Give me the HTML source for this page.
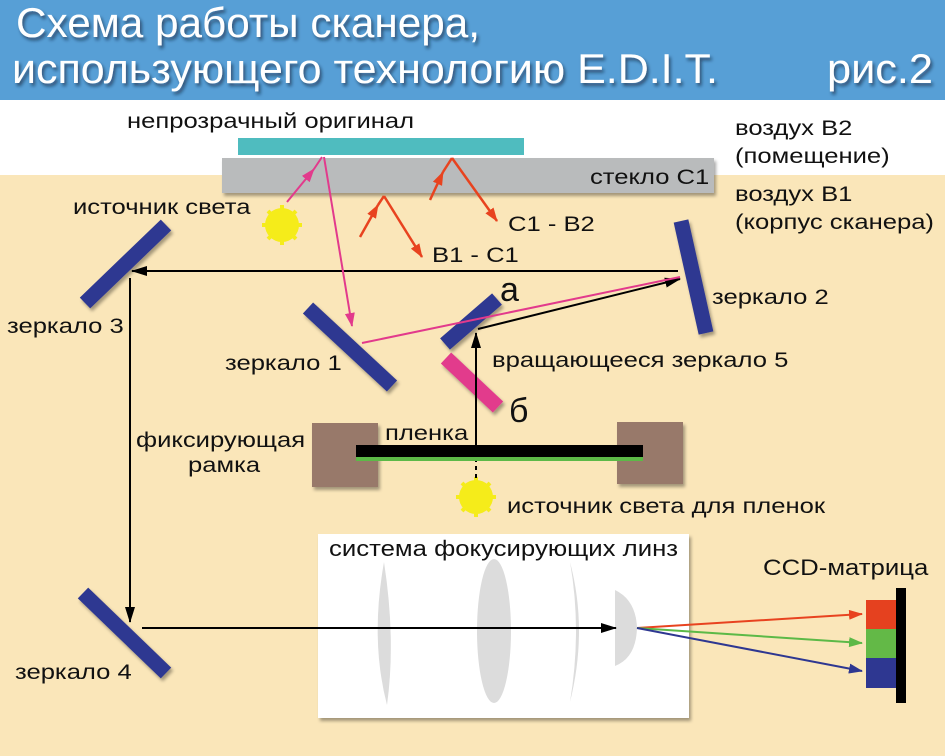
<!DOCTYPE html>
<html><head><meta charset="utf-8"><style>
html,body{margin:0;padding:0;width:945px;height:756px;overflow:hidden;background:#fae6b9}
svg{display:block}
text{font-family:"Liberation Sans",sans-serif;fill:#111}
</style></head><body>
<svg width="945" height="756" viewBox="0 0 945 756" xmlns="http://www.w3.org/2000/svg">
<defs>
<filter id="sh" x="-20%" y="-20%" width="150%" height="150%"><feDropShadow dx="2" dy="3" stdDeviation="1.5" flood-color="#000" flood-opacity="0.35"/></filter>
<filter id="ts" x="-5%" y="-20%" width="110%" height="150%"><feDropShadow dx="2" dy="3" stdDeviation="1.5" flood-color="#123" flood-opacity="0.6"/></filter>
<marker id="ak2" markerWidth="16" markerHeight="10" refX="15" refY="5" orient="auto" markerUnits="userSpaceOnUse"><path d="M0,0 L16,5 L0,10z" fill="#000"/></marker>
<marker id="ap" markerWidth="14" markerHeight="10" refX="13" refY="5" orient="auto" markerUnits="userSpaceOnUse"><path d="M0,0 L14,5 L0,10z" fill="#e23a8c"/></marker>
<marker id="ar" markerWidth="14" markerHeight="10" refX="13" refY="5" orient="auto" markerUnits="userSpaceOnUse"><path d="M0,0 L14,5 L0,10z" fill="#e8431f"/></marker>
<marker id="ag" markerWidth="14" markerHeight="10" refX="13" refY="5" orient="auto" markerUnits="userSpaceOnUse"><path d="M0,0 L14,5 L0,10z" fill="#5cb947"/></marker>
<marker id="ab" markerWidth="14" markerHeight="10" refX="13" refY="5" orient="auto" markerUnits="userSpaceOnUse"><path d="M0,0 L14,5 L0,10z" fill="#2e3791"/></marker>
<g id="sun"><g stroke="#f5ec1a" stroke-width="4"><line x1="0" y1="-20" x2="0" y2="20"/><line x1="-20" y1="0" x2="20" y2="0"/><line x1="-14" y1="-14" x2="14" y2="14"/><line x1="-14" y1="14" x2="14" y2="-14"/></g><circle r="17" fill="#f5ec1a"/></g>
</defs>
<rect x="0" y="0" width="945" height="100" fill="#579fd6"/>
<rect x="0" y="100" width="945" height="75" fill="#fff"/>
<g filter="url(#ts)">
<text x="16" y="37" font-size="42" style="fill:#fff" textLength="464" lengthAdjust="spacingAndGlyphs">Схема работы сканера,</text>
<text x="12" y="83" font-size="42" style="fill:#fff" textLength="706" lengthAdjust="spacingAndGlyphs">использующего технологию E.D.I.T.</text>
<text x="827" y="83" font-size="42" style="fill:#fff" textLength="106" lengthAdjust="spacingAndGlyphs">рис.2</text>
</g>
<rect x="238" y="138" width="286" height="17" fill="#4fbcbf"/>
<rect x="222" y="158" width="492" height="35" fill="#b9bbbc" filter="url(#sh)"/>
<g font-size="21">
<text transform="translate(127 128) scale(1.22 1)">непрозрачный оригинал</text>
<text transform="translate(590 184) scale(1.22 1)">стекло C1</text>
<text transform="translate(735 135) scale(1.22 1)">воздух B2</text>
<text transform="translate(735 163) scale(1.22 1)">(помещение)</text>
<text transform="translate(735 201) scale(1.22 1)">воздух B1</text>
<text transform="translate(735 229) scale(1.22 1)">(корпус сканера)</text>
<text transform="translate(73 214) scale(1.22 1)">источник света</text>
<text transform="translate(508 231) scale(1.22 1)">C1 - B2</text>
<text transform="translate(432 262) scale(1.22 1)">B1 - C1</text>
</g>
<use href="#sun" x="282" y="225"/>
<use href="#sun" x="476" y="497"/>
<g stroke="#e8431f" stroke-width="2.5" fill="none">
<line x1="360" y1="237" x2="378" y2="205" marker-end="url(#ar)"/>
<line x1="378" y1="205" x2="384" y2="196"/>
<line x1="384" y1="196" x2="422" y2="257" marker-end="url(#ar)"/>
<line x1="430" y1="200" x2="443" y2="172" marker-end="url(#ar)"/>
<line x1="443" y1="172" x2="452" y2="158"/>
<line x1="452" y1="158" x2="497" y2="221" marker-end="url(#ar)"/>
</g>
<g stroke="#2e3791" stroke-width="15" filter="url(#sh)">
<line x1="166" y1="225" x2="85" y2="303"/>
<line x1="681" y1="221" x2="706" y2="333"/>
<line x1="308" y1="308" x2="392" y2="386"/>
<line x1="445" y1="344" x2="497" y2="299"/>
<line x1="83" y1="593" x2="166" y2="673"/>
</g>
<line x1="446" y1="358" x2="498" y2="407" stroke="#e23a8c" stroke-width="15" filter="url(#sh)"/>
<g stroke="#000" stroke-width="2" fill="none">
<line x1="678" y1="271" x2="132" y2="271" marker-end="url(#ak2)"/>
<line x1="130" y1="278" x2="130" y2="622" marker-end="url(#ak2)"/>
<line x1="476" y1="445" x2="476" y2="333" marker-end="url(#ak2)"/>
<line x1="476" y1="458" x2="476" y2="478" stroke-dasharray="4,4"/>
<line x1="478" y1="329" x2="680" y2="279" marker-end="url(#ak2)"/>
</g>
<g stroke="#e23a8c" stroke-width="2" fill="none">
<line x1="287" y1="202" x2="314" y2="169" marker-end="url(#ap)"/>
<line x1="314" y1="169" x2="322" y2="157"/>
<line x1="324" y1="157" x2="352" y2="326" marker-end="url(#ap)"/>
<line x1="362" y1="343" x2="680" y2="277"/>
</g>
<rect x="312" y="423" width="66" height="64" fill="#98796b" filter="url(#sh)"/>
<rect x="617" y="422" width="66" height="62" fill="#98796b" filter="url(#sh)"/>
<rect x="356" y="445" width="287" height="12" fill="#000"/>
<rect x="356" y="457" width="287" height="4" fill="#5cb947"/>
<g font-size="21">
<text transform="translate(712 304) scale(1.22 1)">зеркало 2</text>
<text transform="translate(7 333) scale(1.22 1)">зеркало 3</text>
<text transform="translate(225 370) scale(1.22 1)">зеркало 1</text>
<text transform="translate(492 367) scale(1.22 1)">вращающееся зеркало 5</text>
<text transform="translate(136 447) scale(1.22 1)">фиксирующая</text>
<text transform="translate(188 472) scale(1.22 1)">рамка</text>
<text transform="translate(385 440) scale(1.22 1)">пленка</text>
<text transform="translate(507 513) scale(1.22 1)">источник света для пленок</text>
<text transform="translate(15 679) scale(1.22 1)">зеркало 4</text>
</g>
<text x="500" y="301" font-size="34">а</text>
<text x="509" y="422" font-size="34">б</text>
<rect x="318" y="534" width="371" height="184" fill="#fff" filter="url(#sh)"/>
<text transform="translate(329 556) scale(1.17 1)" font-size="22">система фокусирующих линз</text>
<g fill="#dcdcdc">
<path d="M384,562 Q370,640 387,705 Q396,640 384,562z"/>
<ellipse cx="494" cy="631" rx="17" ry="72"/>
<path d="M570,562 Q588,630 570,702 Q582,630 570,562z"/>
<path d="M615,590 Q636,600 637,628 Q636,658 615,666z"/>
</g>
<line x1="142" y1="628" x2="616" y2="628" stroke="#000" stroke-width="2" marker-end="url(#ak2)"/>
<text transform="translate(763 575) scale(1.17 1)" font-size="22">CCD-матрица</text>
<rect x="866" y="600" width="31" height="29" fill="#e5411f"/>
<rect x="866" y="629" width="31" height="29" fill="#63b947"/>
<rect x="866" y="658" width="31" height="30" fill="#2e3791"/>
<rect x="896" y="588" width="10" height="115" fill="#000"/>
<g stroke-width="2">
<line x1="637" y1="628" x2="862" y2="614" stroke="#e8431f" marker-end="url(#ar)"/>
<line x1="637" y1="628" x2="862" y2="643" stroke="#5cb947" marker-end="url(#ag)"/>
<line x1="637" y1="628" x2="862" y2="671" stroke="#2e3791" marker-end="url(#ab)"/>
</g>
</svg>
</body></html>
